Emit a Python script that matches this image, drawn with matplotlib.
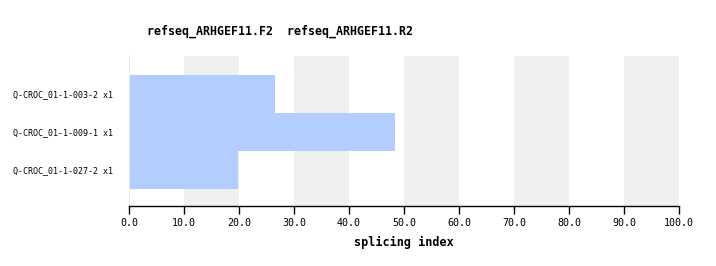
import matplotlib
matplotlib.use("Agg")
import matplotlib.pyplot as plt

# dados
amostras = ["Q-CROC_01-1-003-2 x1", "Q-CROC_01-1-009-1 x1", "Q-CROC_01-1-027-2 x1"]
splicing_index = [26.5, 48.4, 19.8]
ticks_x = [0, 10, 20, 30, 40, 50, 60, 70, 80, 90, 100]
titulo = "refseq_ARHGEF11.F2  refseq_ARHGEF11.R2"

plt.rcParams["font.family"] = ["DejaVu Sans Mono"]

fig = plt.figure(figsize=(7.16, 2.66), dpi=100)
ax = fig.add_axes([129 / 716, 1 - 206 / 266, 550 / 716, 150 / 266])

# faixas cinza alternadas
for inicio in ticks_x[1::2]:
    ax.axvspan(inicio, inicio + 10, color="#f0f0f0", lw=0, zorder=0)

pos = list(range(len(amostras)))
ax.barh(pos, splicing_index, height=1.0, color="#b3cdff", lw=0, zorder=2)

ax.set_xlim(0, 100)
ax.set_ylim(2.95, -1.0)
ax.set_xticks(ticks_x)
ax.set_xticklabels([f"{t:.1f}" for t in ticks_x], fontsize=7.2)
ax.set_yticks(pos)
ax.set_yticklabels(amostras, fontsize=6)
ax.tick_params(axis="y", length=0, pad=11.5)
ax.tick_params(axis="x", length=6, width=1, pad=3, color="black")

for lado in ["top", "right"]:
    ax.spines[lado].set_visible(False)
ax.spines["left"].set_color("#e8e8e8")
ax.spines["bottom"].set_linewidth(1)

ax.set_xlabel("splicing index", fontsize=8.5, fontweight="bold", labelpad=5)
fig.text(147 / 716, 1 - 31 / 266, titulo, fontsize=8.4, fontweight="bold",
         ha="left", va="center")

fig.savefig("out.png", dpi=100)
